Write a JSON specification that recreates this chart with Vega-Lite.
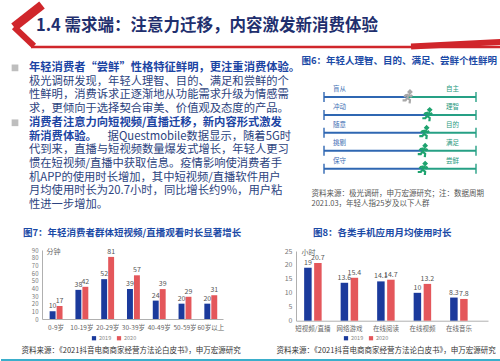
{
  "$schema": "https://vega.github.io/schema/vega-lite/v6.json",
  "background": "white",
  "padding": 0,
  "spacing": 0,
  "config": {
    "view": {"stroke": null},
    "font": "Noto Sans CJK SC"
  },
  "resolve": {"scale": {"color": "independent", "xOffset": "independent"}, "legend": {"color": "independent"}},
  "vconcat": [
    {
      "width": 500,
      "height": 55,
      "data": {"values": [{"title": "1.4 需求端：注意力迁移，内容激发新消费体验"}]},
      "layer": [
        {"mark": {"type": "rule", "color": "#d0262b", "strokeWidth": 9}, "encoding": {"x": {"value": 41}, "y": {"value": 5}, "x2": {"value": 13}, "y2": {"value": 27}}},
        {"mark": {"type": "rule", "color": "#d0262b", "strokeWidth": 6}, "encoding": {"x": {"value": 13}, "y": {"value": 27}, "x2": {"value": 33}, "y2": {"value": 46}}},
        {"mark": {"type": "rule", "color": "#d0262b", "strokeWidth": 2.5}, "encoding": {"x": {"value": 30}, "y": {"value": 47}, "x2": {"value": 500}, "y2": {"value": 47}}},
        {"mark": {"type": "rule", "color": "#d0262b", "strokeWidth": 6}, "encoding": {"x": {"value": 410}, "y": {"value": 46.5}, "x2": {"value": 500}, "y2": {"value": 42}}},
        {"mark": {"type": "text", "align": "left", "baseline": "middle", "fontSize": 16.5, "fontWeight": "bold", "color": "#1f2f6e"}, "encoding": {"x": {"value": 35}, "y": {"value": 26}, "text": {"field": "title"}}}
      ]
    },
    {
      "spacing": 0,
      "hconcat": [
        {
          "width": 297,
          "height": 172,
          "data": {"values": [
            {"line": 1, "part": "lead", "bullet": true, "text": "年轻消费者“尝鲜”性格特征鲜明，更注重消费体验。"},
            {"line": 2, "part": "body", "text": "极光调研发现，年轻人理智、目的、满足和尝鲜的个"},
            {"line": 3, "part": "body", "text": "性鲜明，消费诉求正逐渐地从功能需求升级为情感需"},
            {"line": 4, "part": "body", "text": "求，更倾向于选择契合审美、价值观及态度的产品。"},
            {"line": 5, "part": "lead", "bullet": true, "text": "消费者注意力向短视频/直播迁移，新内容形式激发"},
            {"line": 6, "part": "lead", "text": "新消费体验。"},
            {"line": 6, "part": "tail", "text": "据Questmobile数据显示，随着5G时"},
            {"line": 7, "part": "body", "text": "代到来，直播与短视频数量爆发式增长，年轻人更习"},
            {"line": 8, "part": "body", "text": "惯在短视频/直播中获取信息。疫情影响使消费者手"},
            {"line": 9, "part": "body", "text": "机APP的使用时长增加，其中短视频/直播软件用户"},
            {"line": 10, "part": "body", "text": "月均使用时长为20.7小时，同比增长约9%，用户粘"},
            {"line": 11, "part": "body", "text": "性进一步增加。"}
          ]},
          "encoding": {"y": {"field": "line", "type": "ordinal", "axis": null, "scale": {"type": "point", "range": [6, 157]}}},
          "layer": [
            {"transform": [{"filter": {"field": "bullet", "equal": true}}], "mark": {"type": "point", "shape": "square", "filled": true, "size": 45, "color": "#a3a3a3"}, "encoding": {"x": {"value": 14}}},
            {"transform": [{"filter": {"field": "part", "equal": "lead"}}], "mark": {"type": "text", "align": "left", "baseline": "middle", "fontSize": 11.3, "fontWeight": "bold", "color": "#1b44a3"}, "encoding": {"x": {"value": 28}, "text": {"field": "text"}}},
            {"transform": [{"filter": {"field": "part", "equal": "body"}}], "mark": {"type": "text", "align": "left", "baseline": "middle", "fontSize": 11.3, "color": "#2c4380"}, "encoding": {"x": {"value": 28}, "text": {"field": "text"}}},
            {"transform": [{"filter": {"field": "part", "equal": "tail"}}], "mark": {"type": "text", "align": "right", "baseline": "middle", "fontSize": 11.3, "color": "#2c4380"}, "encoding": {"x": {"value": 290}, "text": {"field": "text"}}}
          ]
        },
        {
          "width": 203,
          "height": 172,
          "data": {"values": [
            {"left": "盲从", "right": "自主", "lo": 0, "hi": 1, "pos": 0.55, "group": "一般"},
            {"left": "冲动", "right": "理智", "lo": 0, "hi": 1, "pos": 0.68, "group": "年轻人"},
            {"left": "随意", "right": "目的", "lo": 0, "hi": 1, "pos": 0.66, "group": "年轻人"},
            {"left": "挑剔", "right": "满足", "lo": 0, "hi": 1, "pos": 0.65, "group": "年轻人"},
            {"left": "保守", "right": "尝鲜", "lo": 0, "hi": 1, "pos": 0.65, "group": "年轻人"}
          ]},
          "encoding": {"y": {"field": "left", "type": "nominal", "scale": {"type": "point", "range": [33, 122.6], "domain": ["盲从", "冲动", "随意", "挑剔", "保守"]},
            "axis": {"labels": false, "ticks": false, "domain": false, "grid": false, "title": "图6：年轻人理智、目的、满足、尝鲜个性鲜明", "titleAngle": 0, "titleX": 0, "titleY": 5, "titleAlign": "left", "titleBaseline": "middle", "titleFontSize": 9.5, "titleFontWeight": "bold", "titleColor": "#1b4aa6"}}},
          "layer": [
            {"mark": {"type": "rule", "color": "#2f67b2", "strokeWidth": 2}, "encoding": {
              "x": {"field": "lo", "type": "quantitative", "scale": {"domain": [0, 1], "range": [23, 175]}, "axis": {"labels": false, "ticks": false, "domain": false, "grid": false, "title": ["资料来源：极光调研，申万宏源研究；注：数据周期", "2021.03，年轻人指25岁及以下人群"], "titleAnchor": "start", "titleAlign": "left", "titleX": 10, "titleY": -38, "titleBaseline": "top", "titleFontSize": 7.5, "titleFontWeight": "normal", "titleColor": "#555", "titleLineHeight": 10}},
              "x2": {"field": "pos"}}},
            {"mark": {"type": "rule", "color": "#26a085", "strokeWidth": 2}, "encoding": {"x": {"field": "pos", "type": "quantitative"}, "x2": {"field": "hi"}}},
            {"mark": {"type": "tick", "color": "#2f67b2", "thickness": 2, "size": 10}, "encoding": {"x": {"field": "lo", "type": "quantitative"}}},
            {"mark": {"type": "tick", "color": "#26a085", "thickness": 2, "size": 10}, "encoding": {"x": {"field": "hi", "type": "quantitative"}}},
            {"mark": {"type": "text", "fontSize": 6.5, "color": "#3b6db3", "align": "left", "dx": 9, "dy": -8}, "encoding": {"x": {"field": "lo", "type": "quantitative"}, "text": {"field": "left"}}},
            {"mark": {"type": "text", "fontSize": 6.5, "color": "#2a9a80", "align": "right", "dx": -17, "dy": -8}, "encoding": {"x": {"field": "hi", "type": "quantitative"}, "text": {"field": "right"}}},
            {"mark": {"type": "point", "shape": "M0.35,-0.95 L0.55,-0.75 L0.35,-0.55 L0.15,-0.75 Z M0.15,-0.35 L-0.05,0.15 M0.15,-0.35 L0.5,-0.1 L0.7,-0.3 M0.15,-0.35 L-0.3,-0.25 L-0.5,0 M-0.05,0.15 L0.35,0.45 L0.3,0.95 M-0.05,0.15 L-0.3,0.5 L-0.75,0.5", "size": 180, "filled": false, "strokeWidth": 2.2, "opacity": 1},
             "encoding": {"x": {"field": "pos", "type": "quantitative"}, "color": {"field": "group", "type": "nominal", "scale": {"domain": ["一般", "年轻人"], "range": ["#a8a8a8", "#1ea36f"]}, "legend": null}}}
          ]
        }
      ]
    },
    {
      "spacing": 0,
      "resolve": {"scale": {"color": "independent", "xOffset": "independent"}, "legend": {"color": "independent"}},
      "hconcat": [
        {
          "width": 250,
          "height": 125,
          "title": {"text": "图7：年轻消费者群体短视频/直播观看时长显著增长", "anchor": "start", "frame": "group", "dx": 22, "offset": -4, "fontSize": 9.5, "fontWeight": "bold", "color": "#1b4aa6"},
          "data": {"values": [
            {"age": "0-9岁", "year": "2019", "minutes": 10}, {"age": "0-9岁", "year": "2020", "minutes": 17},
            {"age": "10-19岁", "year": "2019", "minutes": 38}, {"age": "10-19岁", "year": "2020", "minutes": 42},
            {"age": "20-29岁", "year": "2019", "minutes": 52}, {"age": "20-29岁", "year": "2020", "minutes": 81},
            {"age": "30-39岁", "year": "2019", "minutes": 39}, {"age": "30-39岁", "year": "2020", "minutes": 57},
            {"age": "40-49岁", "year": "2019", "minutes": 24}, {"age": "40-49岁", "year": "2020", "minutes": 39},
            {"age": "50-59岁", "year": "2019", "minutes": 20}, {"age": "50-59岁", "year": "2020", "minutes": 29},
            {"age": "60岁以上", "year": "2019", "minutes": 20}, {"age": "60岁以上", "year": "2020", "minutes": 31}
          ]},
          "encoding": {
            "x": {"field": "age", "type": "nominal", "sort": null, "scale": {"range": [41, 222], "paddingInner": 0.5, "paddingOuter": 0.26, "align": 0.57},
              "axis": {"offset": -39, "labelAngle": 0, "labelFontSize": 6.5, "labelColor": "#666", "labelPadding": 5, "ticks": false, "domainColor": "#b0b0b0",
                "title": "资料来源：《2021抖音电商商家经营方法论白皮书》，申万宏源研究", "titleAnchor": "start", "titleAlign": "left", "titleX": 20, "titleY": 31, "titleBaseline": "middle", "titleFontSize": 7.5, "titleFontWeight": "normal", "titleColor": "#333"}},
            "xOffset": {"field": "year", "type": "nominal", "scale": {"paddingInner": 0.15}},
            "y": {"field": "minutes", "type": "quantitative", "scale": {"domain": [0, 90], "range": [86, 17]},
              "axis": {"offset": -41, "tickCount": 10, "grid": false, "labelFontSize": 6, "labelColor": "#777", "ticks": false, "labelPadding": 4, "domainColor": "#b0b0b0",
                "title": "分钟", "titleAngle": 0, "titleX": 4, "titleY": 18, "titleAlign": "left", "titleBaseline": "middle", "titleFontSize": 7, "titleFontWeight": "normal", "titleColor": "#666"}},
            "color": {"field": "year", "type": "nominal", "scale": {"domain": ["2019", "2020"], "range": ["#1b3a9c", "#e4575b"]},
              "legend": {"orient": "none", "legendX": 90, "legendY": 102, "direction": "horizontal", "title": null, "symbolType": "square", "symbolSize": 18, "labelFontSize": 5.5, "labelColor": "#888", "columnPadding": 4, "labelOffset": 2}}
          },
          "layer": [
            {"mark": {"type": "bar"}},
            {"mark": {"type": "text", "baseline": "bottom", "dy": -2, "fontSize": 7}, "encoding": {"text": {"field": "minutes", "type": "nominal"}, "color": {"value": "#555"}}}
          ]
        },
        {
          "width": 250,
          "height": 125,
          "title": {"text": "图8：各类手机应用月均使用时长", "anchor": "start", "frame": "group", "dx": 62, "offset": -4, "fontSize": 9.5, "fontWeight": "bold", "color": "#1b4aa6"},
          "data": {"values": [
            {"app": "短视频/直播", "year": "2019", "hours": 19}, {"app": "短视频/直播", "year": "2020", "hours": 20.7},
            {"app": "网络游戏", "year": "2019", "hours": 13.6}, {"app": "网络游戏", "year": "2020", "hours": 15.4},
            {"app": "在线阅读", "year": "2019", "hours": 14.1}, {"app": "在线阅读", "year": "2020", "hours": 14.7},
            {"app": "在线视频", "year": "2019", "hours": 10}, {"app": "在线视频", "year": "2020", "hours": 13.2},
            {"app": "在线音乐", "year": "2019", "hours": 8.3}, {"app": "在线音乐", "year": "2020", "hours": 7.8}
          ]},
          "encoding": {
            "x": {"field": "app", "type": "nominal", "sort": null, "scale": {"range": [45, 237], "paddingInner": 0.5, "paddingOuter": 0.38, "align": 0.28},
              "axis": {"offset": -37.3, "labelAngle": 0, "labelFontSize": 6.5, "labelColor": "#666", "labelPadding": 5, "ticks": false, "domainColor": "#b0b0b0",
                "title": "资料来源：《2021抖音电商商家经营方法论白皮书》，申万宏源研究", "titleAnchor": "start", "titleAlign": "left", "titleX": 25, "titleY": 29.3, "titleBaseline": "middle", "titleFontSize": 7.5, "titleFontWeight": "normal", "titleColor": "#333"}},
            "y": {"field": "hours", "type": "quantitative", "scale": {"domain": [0, 25], "range": [87.7, 18]},
              "axis": {"offset": -45, "values": [0, 5, 10, 15, 20, 25], "grid": false, "labelFontSize": 7, "labelColor": "#777", "ticks": false, "labelPadding": 4, "domainColor": "#b0b0b0",
                "title": "小时", "titleAngle": 0, "titleX": 5, "titleY": 19, "titleAlign": "left", "titleBaseline": "middle", "titleFontSize": 7, "titleFontWeight": "normal", "titleColor": "#666"}},
            "color": {"field": "year", "type": "nominal", "scale": {"domain": ["2019", "2020"], "range": ["#1b3a9c", "#e4575b"]},
              "legend": {"orient": "none", "legendX": 92, "legendY": 102, "direction": "horizontal", "title": null, "symbolType": "square", "symbolSize": 18, "labelFontSize": 5.5, "labelColor": "#888", "columnPadding": 4, "labelOffset": 2}}
          },
          "layer": [
            {"transform": [{"filter": {"field": "year", "equal": "2019"}}], "mark": {"type": "bar", "width": 7.5, "xOffset": -5}},
            {"transform": [{"filter": {"field": "year", "equal": "2020"}}], "mark": {"type": "bar", "width": 7.5, "xOffset": 5}},
            {"transform": [{"filter": {"field": "year", "equal": "2019"}}], "mark": {"type": "text", "baseline": "bottom", "dy": -2, "dx": -5, "fontSize": 7, "color": "#555"}, "encoding": {"text": {"field": "hours", "type": "nominal"}, "color": {"value": "#555"}}},
            {"transform": [{"filter": {"field": "year", "equal": "2020"}}], "mark": {"type": "text", "baseline": "bottom", "dy": -2, "dx": 5, "fontSize": 7, "color": "#555"}, "encoding": {"text": {"field": "hours", "type": "nominal"}, "color": {"value": "#555"}}}
          ]
        }
      ]
    },
    {
      "width": 500,
      "height": 6,
      "data": {"values": [{"rule": "footer"}]},
      "mark": {"type": "rule", "color": "#3aaecb", "strokeWidth": 2},
      "encoding": {"x": {"value": 0}, "x2": {"value": 500}, "y": {"value": 2}}
    }
  ]
}
